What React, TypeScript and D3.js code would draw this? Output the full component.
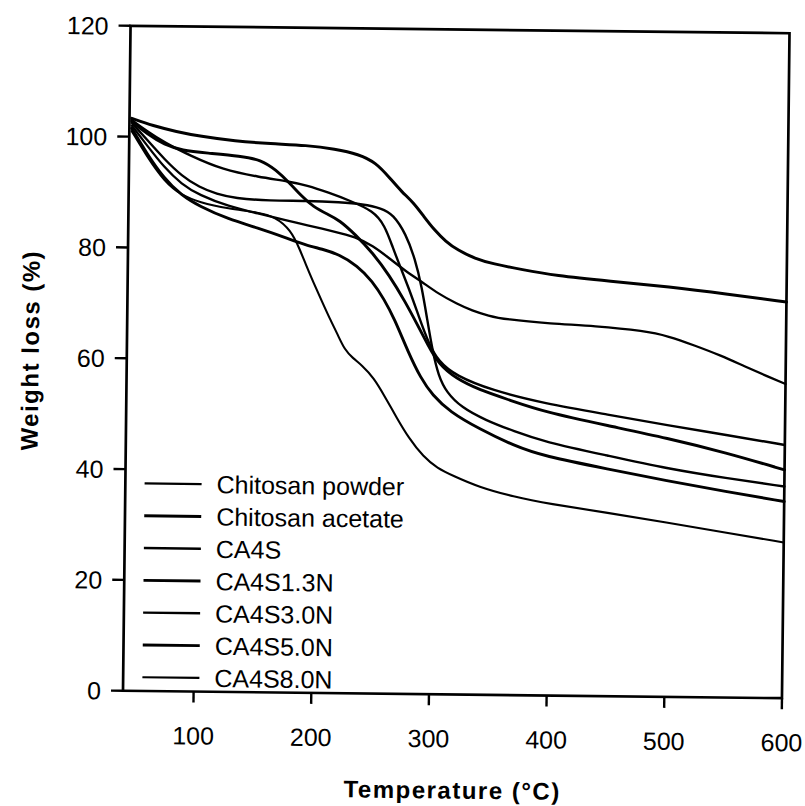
import React from 'react';
import * as d3 from 'd3';

type Pt = [number, number];

const xTicks = [100, 200, 300, 400, 500, 600];
const yTicks = [0, 20, 40, 60, 80, 100, 120];
const seriesNames = ['Chitosan powder', 'Chitosan acetate', 'CA4S', 'CA4S1.3N', 'CA4S3.0N', 'CA4S5.0N', 'CA4S8.0N'];

const chitosanPowder: Pt[] = [[42,102],[55,98.5],[70,94.5],[85,91.5],[100,89.6],[125,87.6],[150,86.4],[175,85.2],[191,84.4],[215,83.3],[233,82.4],[248,80.8],[262,78.6],[276,76.3],[290,74.4],[304,72.3],[320,70.5],[333,69.3],[347,68.4],[361,67.8],[400,67.1],[437,66.8],[480,66],[500,65.1],[522,63.5],[545,61.7],[565,59.8],[585,58],[600,56.7]];
const chitosanAcetate: Pt[] = [[42,103.3],[60,102],[80,101],[100,100.2],[130,99.4],[160,99],[191,98.8],[215,98.2],[235,97.3],[250,95.8],[262,93],[272,90.6],[282,88.7],[291,86.2],[300,83.8],[310,81.7],[320,80.2],[335,78.7],[350,77.8],[375,76.8],[403,75.8],[450,74.9],[500,74],[550,72.8],[600,71.5]];
const ca4s: Pt[] = [[42,103],[55,101],[70,99],[92,96.7],[120,94.2],[150,93],[177,92.2],[191,91.6],[210,90.3],[228,88.9],[248,87.1],[258,84.5],[265,80.5],[272,76.8],[279,73.2],[288,68],[296,63.5],[305,60],[320,57.5],[350,55],[395,52.7],[450,50.8],[500,49],[550,47.4],[600,45.7]];
const ca4s13n: Pt[] = [[42,102.8],[55,100.5],[70,98.6],[85,97.6],[106,97.2],[135,96.7],[152,96.1],[165,94.3],[177,91.9],[187,89.6],[197,87.7],[210,86.3],[219,85.4],[233,82.8],[248,79.5],[262,75.6],[276,70.8],[287,66.5],[296,62.9],[305,59.6],[320,57],[340,55],[365,53.3],[395,51.2],[450,48.8],[500,46.7],[550,44.2],[600,41.2]];
const ca4s30n: Pt[] = [[42,102.5],[55,99.5],[70,96],[85,93],[100,91],[115,89.8],[130,89.1],[160,88.7],[191,88.8],[220,88.6],[239,88.3],[255,87.6],[265,86.5],[276,83],[284,78.5],[290,73.5],[295,67.5],[300,61.7],[305,57.5],[312,54.5],[325,51.8],[345,49.6],[370,47.6],[395,45.8],[450,43.4],[500,41.2],[550,39.6],[600,38.2]];
const ca4s50n: Pt[] = [[42,101.5],[55,97],[70,92.5],[85,89.5],[100,87.6],[125,85.3],[150,83.8],[175,82],[191,80.8],[205,80.1],[219,79.2],[235,77.2],[248,74.4],[258,71.2],[267,67.7],[279,61.7],[290,57],[300,54],[315,51],[340,48],[370,45],[395,43.2],[450,41],[500,39],[550,37.2],[600,35.5]];
const ca4s80n: Pt[] = [[42,101],[55,96.5],[70,92],[85,89.5],[100,88.3],[125,87.2],[150,86.6],[165,85.8],[178,83.5],[186,80],[191,77.4],[198,74],[205,70.8],[212,67.6],[219,64.7],[225,62],[232,60.5],[240,59.2],[250,57],[260,53.5],[270,49.8],[280,46.3],[293,42.8],[305,40.8],[318,39.5],[340,37.5],[370,35.8],[400,34.6],[450,33.1],[500,31.5],[550,29.8],[600,28.1]];

const seriesData = [chitosanPowder, chitosanAcetate, ca4s, ca4s13n, ca4s30n, ca4s50n, ca4s80n];
const seriesWidths = [2.3, 3, 2.4, 2.9, 2.4, 2.9, 2.1];

export default function App() {
  const W = 805, H = 806;
  const left = 126.75, right = 785.75, top = 29.5, bottom = 694.5;
  const x = d3.scaleLinear().domain([40, 600]).range([left, right]);
  const y = d3.scaleLinear().domain([0, 120]).range([bottom, top]);
  const line = d3.line<Pt>().x(d => x(d[0])).y(d => y(d[1])).curve(d3.curveBasis);
  const font = 'Arial, "Liberation Sans", sans-serif';
  const cx = (left + right) / 2, cy = (top + bottom) / 2;
  const legendY0 = 487, legendDy = 32.3;

  return (
    <svg width={W} height={H} style={{ position: 'absolute', left: 0, top: 0, background: '#fff' }} fontFamily={font}>
      <rect x={0} y={0} width={W} height={H} fill="#fff" />
      <g transform={`rotate(0.65, ${cx}, ${cy})`}>
        {seriesData.map((d, i) => (
          <path key={i} d={line(d) || ''} fill="none" stroke="#000" strokeWidth={seriesWidths[i]} strokeLinejoin="round" strokeLinecap="round" />
        ))}
        <rect x={left} y={top} width={right - left} height={bottom - top} fill="none" stroke="#000" strokeWidth={2.7} />
        {yTicks.map(t => (
          <g key={t}>
            <line x1={left - 12} x2={left} y1={y(t)} y2={y(t)} stroke="#000" strokeWidth={2.4} />
            <text x={left - 22} y={y(t)} dy="0.36em" textAnchor="end" fontSize={25}>{t}</text>
          </g>
        ))}
        {xTicks.map(t => (
          <g key={t}>
            <line x1={x(t)} x2={x(t)} y1={bottom} y2={bottom + 11} stroke="#000" strokeWidth={2.4} />
            <text x={x(t)} y={bottom + 44} dy="0.36em" textAnchor="middle" fontSize={25}>{t}</text>
          </g>
        ))}
        {seriesNames.map((n, i) => (
          <g key={n}>
            <line x1={146} x2={203} y1={legendY0 + i * legendDy} y2={legendY0 + i * legendDy} stroke="#000" strokeWidth={seriesWidths[i]} />
            <text x={218} y={legendY0 + i * legendDy} dy="0.36em" fontSize={25}>{n}</text>
          </g>
        ))}
        <text x={457} y={790} dy="0.36em" textAnchor="middle" fontSize={24} fontWeight="bold" letterSpacing={1.5}>Temperature (°C)</text>
        <text transform={`translate(30, 355) rotate(-90)`} dy="0.36em" textAnchor="middle" fontSize={24} fontWeight="bold" letterSpacing={1.5}>Weight loss (%)</text>
      </g>
    </svg>
  );
}
